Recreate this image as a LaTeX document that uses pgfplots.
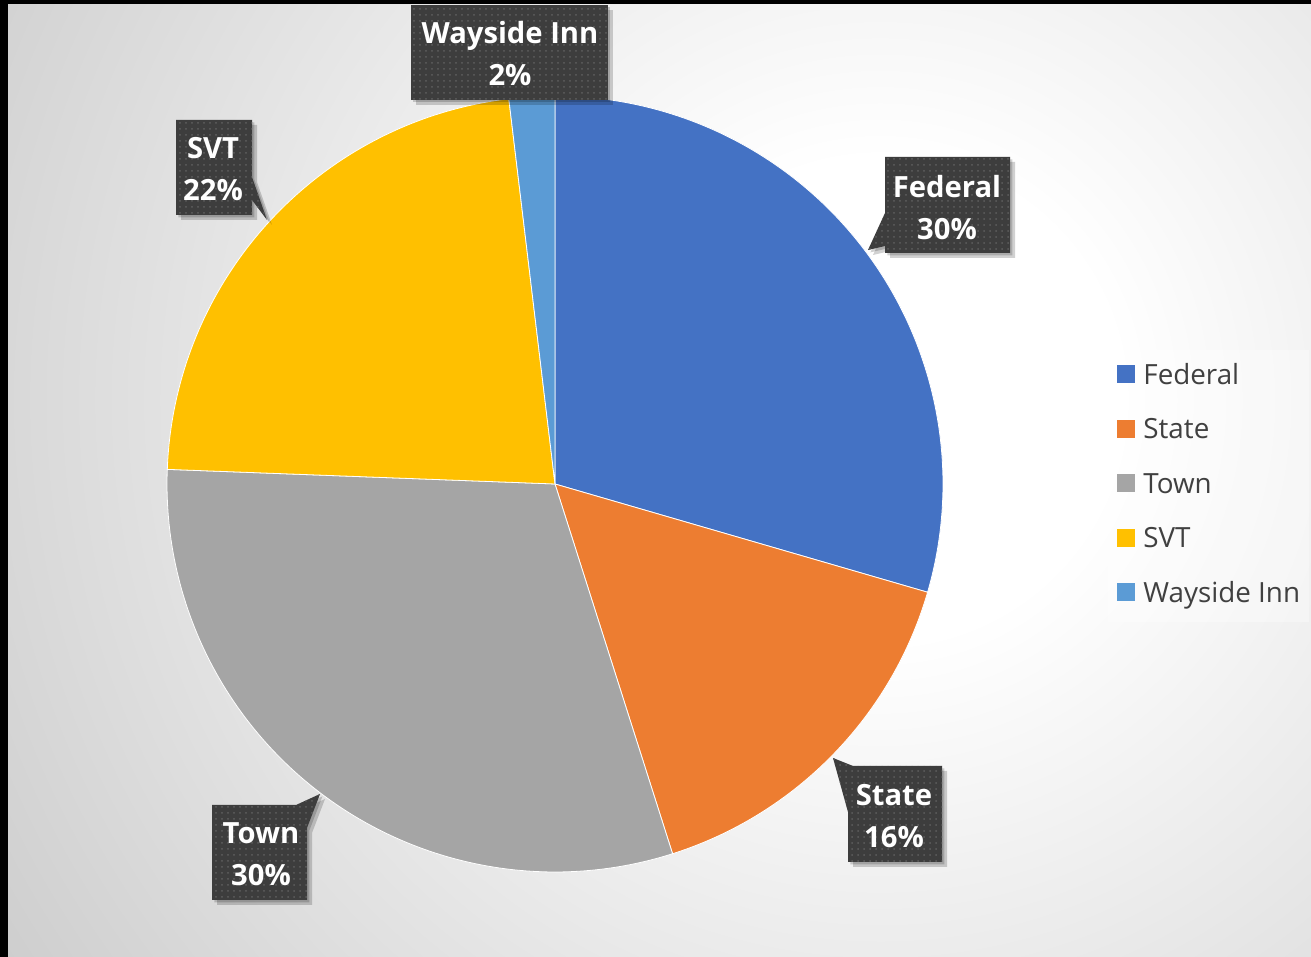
\documentclass[border=0pt]{standalone}
\usepackage{fontspec}
\setmainfont{Open Sans}
\usepackage{pgfplots}
\pgfplotsset{compat=1.18}
\usepackage{pgfplotstable}
\usetikzlibrary{patterns}

\definecolor{cFed}{HTML}{4472C4}
\definecolor{cState}{HTML}{ED7D31}
\definecolor{cTown}{HTML}{A5A5A5}
\definecolor{cSVT}{HTML}{FFC000}
\definecolor{cWay}{HTML}{5B9BD5}
\definecolor{bgout}{HTML}{C4C4C4}
\definecolor{callbg}{HTML}{3D3D3D}
\definecolor{calldot}{HTML}{5E5E5E}
\definecolor{legtext}{HTML}{404040}

\pgfdeclareradialshading{bgshade}{\pgfpoint{0bp}{0bp}}{color(0bp)=(white); color(4bp)=(white); color(20bp)=(bgout); color(50bp)=(bgout)}

% share of each source, percent, clockwise from 12 o'clock
\pgfplotstableread{
value color
29.5 cFed
15.6 cState
30.5 cTown
22.5 cSVT
1.9 cWay
}\piedata

\newcommand\callout[1]{%
  \fill[black,opacity=0.18,xshift=2.5pt,yshift=-2.5pt] #1;
  \fill[black,opacity=0.18,xshift=1.2pt,yshift=-1.2pt] #1;
  \fill[callbg,postaction={pattern=dots,pattern color=calldot}] #1;}

\tikzset{lbl/.style={font=\fontsize{14.6}{17}\bfseries\selectfont,text=white,inner sep=0pt,anchor=base}}

\begin{document}
\begin{tikzpicture}
\path[use as bounding box] (0,0) rectangle (655.5pt,478.5pt);
\clip (0,0) rectangle (655.5pt,478.5pt);
% background, in pixel units (y down)
\begin{scope}[x=0.5pt,y=-0.5pt,yshift=478.5pt]
  \shade[shading=bgshade] (-620,-1100) rectangle (2380,1900);
  \fill[black] (0,0) rectangle (8,957);
  \fill[black] (0,0) rectangle (1311,4);
\end{scope}

\begin{axis}[
  at={(0,0)}, anchor=south west,
  scale only axis, width=655.5pt, height=478.5pt,
  xmin=0, xmax=1311, ymin=0, ymax=957,
  hide axis, clip=false,
  legend style={at={(axis cs:1108,607)}, anchor=north west,
    draw=none, fill=white, fill opacity=0.35, text opacity=1,
    font=\fontsize{13.9}{16}\selectfont, text=legtext,
    inner xsep=4.5pt, inner ysep=7pt, row sep=14.25pt,
    nodes={inner sep=0pt, text height=10pt, text depth=3pt},
    /tikz/column 1/.style={column sep=4pt}},
  legend cell align=left,
  legend image code/.code={\fill[fill opacity=1] (0pt,-3pt) rectangle (9pt,6pt);},
]
\pgfplotsextra{
  \pgfplotstablegetrowsof{\piedata}
  \pgfmathtruncatemacro\nrows{\pgfplotsretval-1}
  \gdef\cum{0}
  \foreach \r in {0,...,\nrows}{
    \pgfplotstablegetelem{\r}{value}\of\piedata \let\sval\pgfplotsretval
    \pgfplotstablegetelem{\r}{color}\of\piedata \let\scol\pgfplotsretval
    \pgfmathsetmacro\sa{90-3.6*\cum}
    \pgfmathsetmacro\sb{90-3.6*(\cum+\sval)}
    \fill[fill=\scol, draw=white, line width=0.4pt] (axis cs:555,473) -- ++(\sa:194pt)
      arc[start angle=\sa, end angle=\sb, radius=194pt] -- cycle;
    \pgfmathsetmacro\snew{\cum+\sval}
    \xdef\cum{\snew}
  }
}
\addlegendimage{fill=cFed,draw=none}\addlegendentry{Federal}
\addlegendimage{fill=cState,draw=none}\addlegendentry{State}
\addlegendimage{fill=cTown,draw=none}\addlegendentry{Town}
\addlegendimage{fill=cSVT,draw=none}\addlegendentry{SVT}
\addlegendimage{fill=cWay,draw=none}\addlegendentry{Wayside Inn}
\end{axis}

% data callouts, pixel units
\begin{scope}[x=0.5pt,y=-0.5pt,yshift=478.5pt]
  \callout{(411,5) -- (608,5) -- (608,100) -- (411,100) -- cycle}
  \callout{(885,157) -- (1010,157) -- (1010,253) -- (885,253) -- (885,246) -- (868,250) -- (885,213) -- cycle}
  \callout{(176,120) -- (252,120) -- (252,177) -- (267,220) -- (252,200) -- (252,215) -- (176,215) -- cycle}
  \callout{(212,805) -- (296,805) -- (320,794) -- (307,828) -- (307,900) -- (212,900) -- cycle}
  \callout{(833,758) -- (853,766) -- (942,766) -- (942,862) -- (848,862) -- (848,812) -- cycle}
  \node[lbl] at (510,44) {Wayside Inn};
  \node[lbl] at (510,86) {2\%};
  \node[lbl] at (947,198) {Federal};
  \node[lbl] at (947,240) {30\%};
  \node[lbl] at (213,159) {SVT};
  \node[lbl] at (213,201) {22\%};
  \node[lbl] at (261,844) {Town};
  \node[lbl] at (261,886) {30\%};
  \node[lbl] at (894,806) {State};
  \node[lbl] at (894,848) {16\%};
\end{scope}
\end{tikzpicture}
\end{document}
